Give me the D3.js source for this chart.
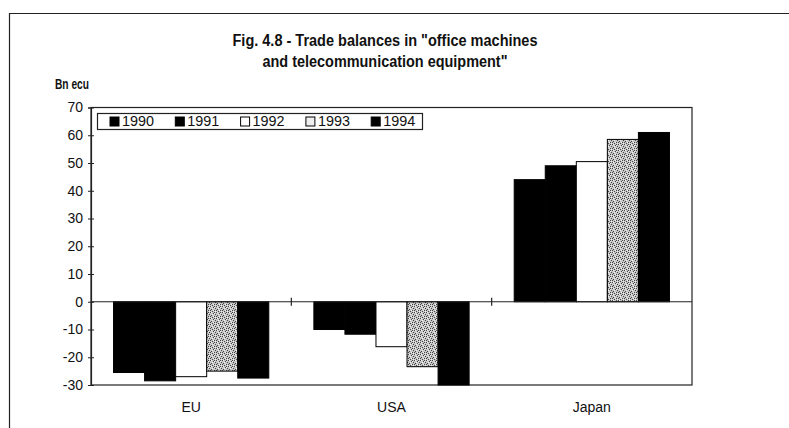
<!DOCTYPE html>
<html>
<head>
<meta charset="utf-8">
<script src="https://cdn.jsdelivr.net/npm/d3@7/dist/d3.min.js"></script>
<style>
  html, body { margin: 0; padding: 0; background: #fff; }
  svg { display: block; }
  text { font-family: "Liberation Sans Narrow", "Arial Narrow", "Liberation Sans", Arial, sans-serif; fill: #111; }
</style>
</head>
<body>
<svg id="chart" width="789" height="428"></svg>
<script>
// Trade balances, bn ecu
const regions = ["EU", "USA", "Japan"];
const years = ["1990", "1991", "1992", "1993", "1994"];
const balance1990 = [-25.5, -10, 44];
const balance1991 = [-28.5, -11.7, 49];
const balance1992 = [-27, -16.2, 50.5];
const balance1993 = [-25, -23.4, 58.5];
const balance1994 = [-27.5, -30, 61];
const yTicks = [70, 60, 50, 40, 30, 20, 10, 0, -10, -20, -30];

const seriesValues = [balance1990, balance1991, balance1992, balance1993, balance1994];

const svg = d3.select("#chart");
const W = 789, H = 428;
const plot = { left: 91, right: 692, top: 107.5, bottom: 385 };

// stipple texture for 1993
const defs = svg.append("defs");
const pat = defs.append("pattern")
  .attr("id", "stipple")
  .attr("patternUnits", "userSpaceOnUse")
  .attr("width", 6).attr("height", 6);
pat.append("rect").attr("width", 6).attr("height", 6).attr("fill", "#c6c6c6");
[[0,0],[3,1],[1,3],[4,4],[2,5],[5,2],[0,4],[4,0]].forEach(([px, py]) => {
  pat.append("rect").attr("x", px).attr("y", py).attr("width", 1).attr("height", 1).attr("fill", "#444");
});
[[2,2],[5,5],[1,0],[4,1],[3,4]].forEach(([px, py]) => {
  pat.append("rect").attr("x", px).attr("y", py).attr("width", 1).attr("height", 1).attr("fill", "#f2f2f2");
});

const fills = ["#000", "#000", "#fff", "url(#stipple)", "#000"];

// outer frame
svg.append("path")
  .attr("d", `M9.5,${H} V13.5 H${W}`)
  .attr("fill", "none").attr("stroke", "#222").attr("stroke-width", 1.2);

// title
const title = svg.append("g").attr("font-weight", "bold");
title.append("text").attr("x", 385).attr("y", 46).attr("text-anchor", "middle")
  .attr("font-size", 16).attr("textLength", 305).attr("lengthAdjust", "spacingAndGlyphs")
  .text("Fig. 4.8 - Trade balances in \"office machines");
title.append("text").attr("x", 385).attr("y", 67).attr("text-anchor", "middle")
  .attr("font-size", 16).attr("textLength", 245).attr("lengthAdjust", "spacingAndGlyphs")
  .text("and telecommunication equipment\"");

svg.append("text").attr("x", 55).attr("y", 89).attr("font-size", 15)
  .attr("font-weight", "bold")
  .attr("textLength", 34).attr("lengthAdjust", "spacingAndGlyphs")
  .text("Bn ecu");

// scales
const x = d3.scaleBand().domain(regions).range([plot.left, plot.right])
  .paddingInner(0.225).paddingOuter(0.1125);
const xs = d3.scaleBand().domain(years).range([0, x.bandwidth()]);
const y = d3.scaleLinear().domain([-30, 70]).range([plot.bottom, plot.top]);

// plot frame
svg.append("rect")
  .attr("x", plot.left).attr("y", plot.top)
  .attr("width", plot.right - plot.left).attr("height", plot.bottom - plot.top)
  .attr("fill", "none").attr("stroke", "#222").attr("stroke-width", 1.2);

// bars
years.forEach((yr, i) => {
  svg.append("g").selectAll("rect")
    .data(regions.map((r, j) => ({ region: r, v: seriesValues[i][j] })))
    .join("rect")
    .attr("x", d => x(d.region) + xs(yr))
    .attr("width", xs.bandwidth())
    .attr("y", d => y(Math.max(0, d.v)))
    .attr("height", d => Math.abs(y(d.v) - y(0)))
    .attr("fill", fills[i])
    .attr("stroke", "#000").attr("stroke-width", 1);
});

// y axis
const yAxis = d3.axisLeft(y).tickValues(yTicks).tickSize(3).tickPadding(5)
  .tickFormat(d => d3.format("d")(d).replace("−", "-"));
const ya = svg.append("g").attr("transform", `translate(${plot.left},0)`).call(yAxis);
ya.select(".domain").attr("stroke", "#222").attr("stroke-width", 1.2);
ya.selectAll(".tick line").attr("stroke", "#222").attr("x2", -3).attr("x1", 3);
ya.selectAll(".tick text").attr("font-size", 14).attr("fill", "#111").attr("font-family", null);

// category axis along zero
const zeroY = y(0);
svg.append("line").attr("x1", plot.left).attr("x2", plot.right)
  .attr("y1", zeroY).attr("y2", zeroY).attr("stroke", "#222").attr("stroke-width", 1.2);
const step = x.step();
const bounds = [1, 2].map(k => plot.left + k * step);
svg.append("g").selectAll("line").data(bounds).join("line")
  .attr("x1", d => d).attr("x2", d => d)
  .attr("y1", zeroY - 4).attr("y2", zeroY + 4)
  .attr("stroke", "#222").attr("stroke-width", 1.2);

svg.append("g").selectAll("text").data(regions).join("text")
  .attr("x", d => x(d) + x.bandwidth() / 2)
  .attr("y", 412)
  .attr("text-anchor", "middle")
  .attr("font-size", 14)
  .text(d => d);

// legend
const lg = svg.append("g");
lg.append("rect").attr("x", 97.5).attr("y", 113.5).attr("width", 325).attr("height", 16)
  .attr("fill", "#fff").attr("stroke", "#222").attr("stroke-width", 1.2);
const legendFills = ["#000", "#000", "#fff", "#eee", "#000"];
years.forEach((yr, i) => {
  const lx = 110 + i * 65.3;
  lg.append("rect").attr("x", lx).attr("y", 117).attr("width", 9).attr("height", 9)
    .attr("fill", legendFills[i]).attr("stroke", "#000").attr("stroke-width", 1);
  lg.append("text").attr("x", lx + 12).attr("y", 126).attr("font-size", 14)
    .attr("textLength", 32).attr("lengthAdjust", "spacingAndGlyphs")
    .text(yr);
});
</script>
</body>
</html>
